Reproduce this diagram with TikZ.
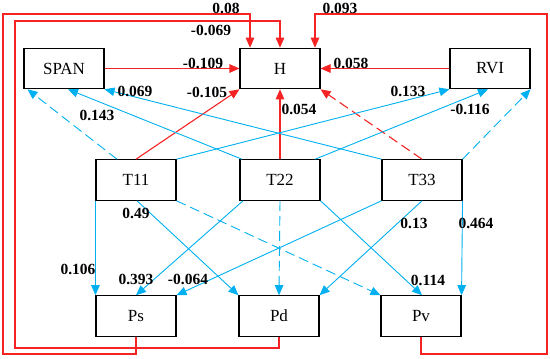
\documentclass[tikz,border=0pt]{standalone}
\usepackage{fontspec}
\setmainfont{Liberation Serif}
\usetikzlibrary{arrows.meta,calc}
\definecolor{myred}{RGB}{245,35,35}
\definecolor{myblue}{RGB}{0,176,240}
\tikzset{
  box/.style={draw=black,line width=1.1pt,minimum width=80pt,minimum height=40.5pt,inner sep=0pt,font=\fontsize{17}{17}\selectfont},
  lbl/.style={inner sep=0pt,font=\bfseries\fontsize{15.5}{15.5}\selectfont},
  tip/.style={-{Triangle[length=10pt,width=8.5pt]}},
  redline/.style={tip,draw=myred,line width=1.1pt},
  blueline/.style={tip,draw=myblue,line width=0.9pt},
  dashline/.style={dash pattern=on 10pt off 5pt}
}
\begin{document}
\begin{tikzpicture}[x=1pt,y=-1pt]
\useasboundingbox (0,0) rectangle (550,359);
% boxes
\node[box] (SPAN) at (64,68.5) {SPAN};
\node[box] (H) at (280,68.5) {H};
\node[box] (RVI) at (490,68.5) {RVI};
\node[box] (T11) at (136,180) {T11};
\node[box] (T22) at (280,180) {T22};
\node[box] (T33) at (422,180) {T33};
\node[box] (Ps) at (136,316) {Ps};
\node[box] (Pd) at (279,316) {Pd};
\node[box] (Pv) at (421,316) {Pv};
% red arrows to H
\draw[redline] (SPAN.east) -- (H.west);
\draw[redline] (RVI.west) -- (H.east);
\draw[redline] (T11.north) -- (H.south west);
\draw[redline] (T22.north) -- (H.south);
\draw[redline,dashline] (T33.north) -- (H.south east);
% feedback loops
\coordinate (L1a) at (3,354);
\coordinate (L1b) at (3,14);
\coordinate (L2a) at (15,348);
\coordinate (L2b) at (15,21);
\coordinate (L3a) at (547,354);
\coordinate (L3b) at (547,14);
\draw[redline] (Ps.south) |- (L1a) -- (L1b) -| ([xshift=-30pt]H.north);
\draw[redline] (Pd.south) |- (L2a) -- (L2b) -| (H.north);
\draw[redline] (Pv.south) |- (L3a) -- (L3b) -| ([xshift=35pt]H.north);
% blue arrows to SPAN / RVI
\draw[blueline,dashline] ([xshift=-19pt]T11.north) -- ([xshift=4pt]SPAN.south west);
\draw[blueline] ([xshift=-38pt]T22.north) -- ([xshift=4pt]SPAN.south);
\draw[blueline] (T33.north west) -- (SPAN.south east);
\draw[blueline] (T11.north east) -- (RVI.south west);
\draw[blueline] ([xshift=35pt]T22.north) -- ([xshift=-2pt]RVI.south);
\draw[blueline,dashline] (T33.north east) -- (RVI.south east);
% blue arrows to P
\draw[blueline] (T11.south west) -- (Ps.north west);
\draw[blueline] ([xshift=1pt]T11.south) -- (Pd.north west);
\draw[blueline,dashline] (T11.south east) -- (Pv.north west);
\draw[blueline] ([xshift=-37pt]T22.south) -- (Ps.north);
\draw[blueline,dashline] (T22.south) -- (Pd.north);
\draw[blueline] (T22.south east) -- ([xshift=1pt]Pv.north);
\draw[blueline] (T33.south west) -- (Ps.north east);
\draw[blueline] (T33.south) -- (Pd.north east);
\draw[blueline] (T33.south east) -- (Pv.north east);
% labels
\node[lbl] (l1) at (226,8) {0.08};
\node[lbl] (l2) at (211,30) {-0.069};
\node[lbl] (l3) at (340,8) {0.093};
\node[lbl] (l4) at (203,63) {-0.109};
\node[lbl] (l5) at (351,63) {0.058};
\node[lbl] (l6) at (207,92) {-0.105};
\node[lbl] (l7) at (299,109) {0.054};
\node[lbl] (l8) at (135,91) {0.069};
\node[lbl] (l9) at (97,115) {0.143};
\node[lbl] (l10) at (408,91) {0.133};
\node[lbl] (l11) at (470,109) {-0.116};
\node[lbl] (l12) at (136,213) {0.49};
\node[lbl] (l13) at (78,269) {0.106};
\node[lbl] (l14) at (136,279) {0.393};
\node[lbl] (l15) at (188,279) {-0.064};
\node[lbl] (l16) at (414,223) {0.13};
\node[lbl] (l17) at (476,223) {0.464};
\node[lbl] (l18) at (428,280) {0.114};
\end{tikzpicture}
\end{document}
